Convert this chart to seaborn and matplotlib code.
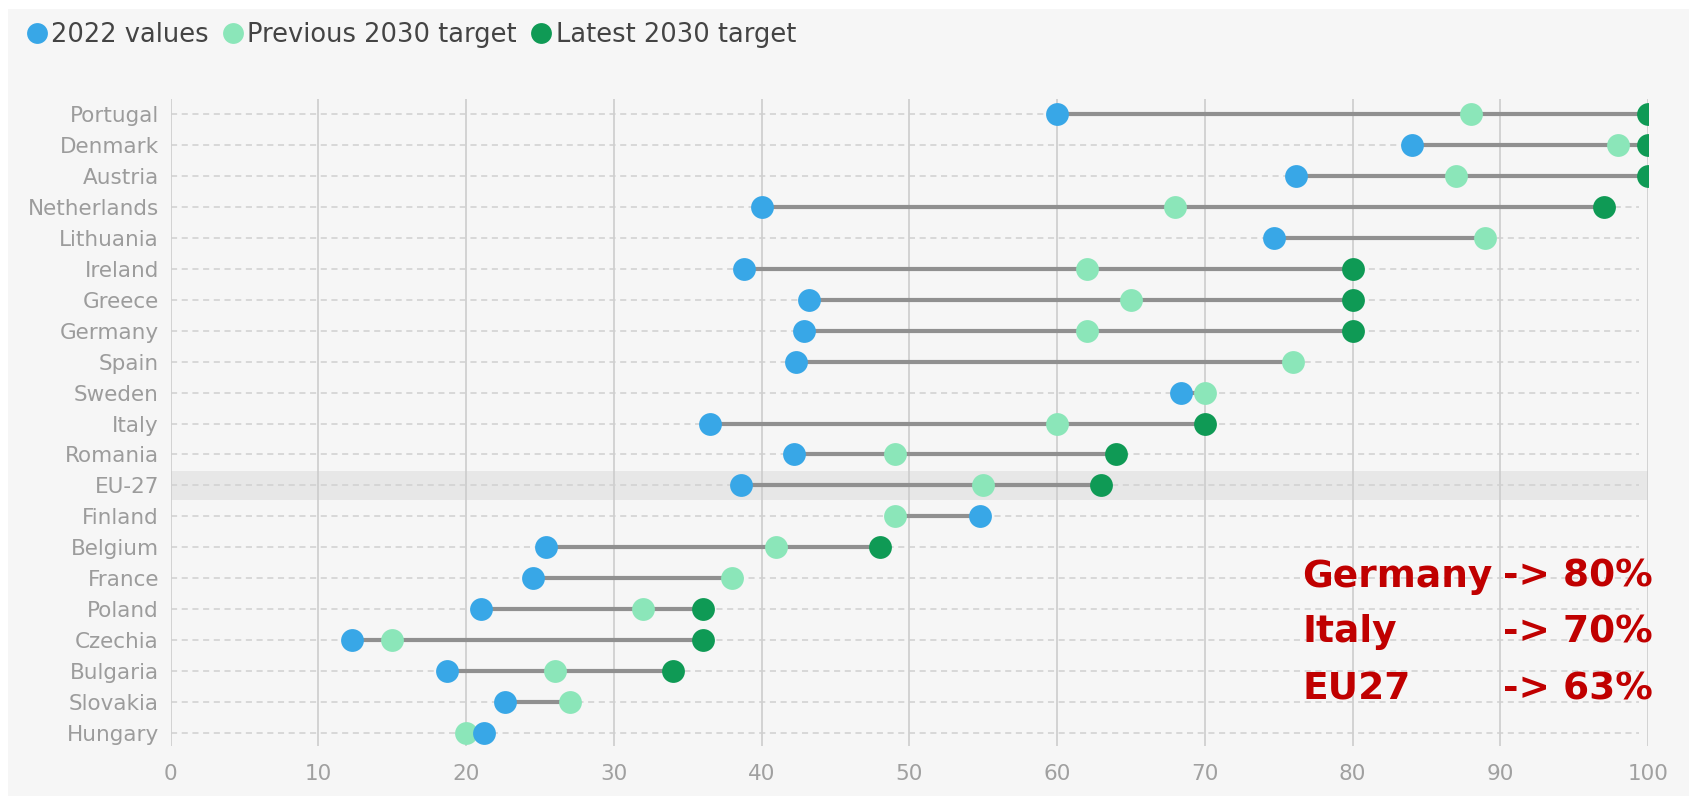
import numpy as np
import pandas as pd
import matplotlib
matplotlib.use("Agg")
import matplotlib.pyplot as plt
from matplotlib.patches import Rectangle
from matplotlib.lines import Line2D
import seaborn as sns

countries = ["Portugal", "Denmark", "Austria", "Netherlands", "Lithuania", "Ireland",
             "Greece", "Germany", "Spain", "Sweden", "Italy", "Romania", "EU-27",
             "Finland", "Belgium", "France", "Poland", "Czechia", "Bulgaria",
             "Slovakia", "Hungary"]
values_2022 = [60, 84, 76.2, 40, 74.7, 38.8, 43.2, 42.9, 42.3, 68.4, 36.5, 42.2, 38.6,
               54.8, 25.4, 24.5, 21.0, 12.3, 18.7, 22.6, 21.2]
prev_2030 = [88, 98, 87, 68, 89, 62, 65, 62, 76, 70, 60, 49, 55,
             49, 41, 38, 32, 15, 26, 27, 20]
latest_2030 = [100, 100, 100, 97, np.nan, 80, 80, 80, np.nan, np.nan, 70, 64, 63,
               np.nan, 48, np.nan, 36, 36, 34, np.nan, np.nan]
x_ticks = [0, 10, 20, 30, 40, 50, 60, 70, 80, 90, 100]
legend_labels = ["2022 values", "Previous 2030 target", "Latest 2030 target"]
highlight = "EU-27"
notes_left = ["Germany", "Italy", "EU27"]
notes_right = ["-> 80%", "-> 70%", "-> 63%"]

C_BLUE = "#38a7e7"
C_LIGHT = "#8be6b9"
C_DARK = "#0f9a55"
BG = "#f6f6f6"

sns.set_theme(style="white")
plt.rcParams["font.family"] = ["DejaVu Sans"]

df = pd.DataFrame({"country": countries, "v2022": values_2022,
                   "prev": prev_2030, "latest": latest_2030})
df["row"] = np.arange(len(df))
df["lo"] = df[["v2022", "prev", "latest"]].min(axis=1)
df["hi"] = df[["v2022", "prev", "latest"]].max(axis=1)

W, H = 1689, 796
fig = plt.figure(figsize=(W / 100, H / 100), dpi=100)
fig.patch.set_facecolor("white")
fig.patches.append(Rectangle((8 / W, 0), 1 - 8 / W, 1 - 9 / H, transform=fig.transFigure,
                             facecolor=BG, edgecolor="none", zorder=-10))

ax = fig.add_axes([170.7 / W, 1 - 746 / H, (1648 - 170.7) / W, (746 - 99) / H])
ax.patch.set_alpha(0)

# highlight band
hi_row = countries.index(highlight)
ax.axhspan(hi_row - 0.48, hi_row + 0.48, xmin=0, xmax=1, color="#e7e7e7", zorder=0, lw=0)

# vertical grid
for t in x_ticks:
    ax.axvline(t, color="#cccccc", lw=1.2, zorder=0.5)
# horizontal dashed guides
ax.hlines(df["row"], 0, 99.4, colors="#d0d0d0", lw=1.1, linestyles=(0, (4, 3)), zorder=0.6)

# connecting lines
ax.hlines(df["row"], df["lo"], df["hi"], colors="#909090", lw=3.0, zorder=2)

ms = 270
sns.scatterplot(data=df, x="prev", y="row", color=C_LIGHT, s=ms, linewidth=0, ax=ax, zorder=3)
sns.scatterplot(data=df, x="v2022", y="row", color=C_BLUE, s=ms, linewidth=0, ax=ax, zorder=4)
sns.scatterplot(data=df.dropna(subset=["latest"]), x="latest", y="row", color=C_DARK, s=ms,
                linewidth=0, ax=ax, zorder=5)

ax.set_xlim(0, 100)
ax.set_ylim(20.42, -0.485)
ax.set_xlabel("")
ax.set_ylabel("")
ax.set_xticks(x_ticks)
ax.set_xticklabels([str(t) for t in x_ticks])
ax.set_yticks(df["row"])
ax.set_yticklabels(countries)
ax.tick_params(axis="y", length=0, pad=8.5, labelsize=15.5, labelcolor="#9c9c9c")
ax.tick_params(axis="x", length=0, pad=13, labelsize=15.5, labelcolor="#a0a0a0")
for s in ax.spines.values():
    s.set_visible(False)

# legend
handles = [Line2D([], [], marker="o", ls="none", markersize=15, markerfacecolor=c,
                  markeredgewidth=0) for c in (C_BLUE, C_LIGHT, C_DARK)]
fig.legend(handles, legend_labels, loc="center left", bbox_to_anchor=(14 / W, 1 - 35 / H),
           ncol=3, frameon=False, fontsize=18.5, handletextpad=0.05, columnspacing=0.45,
           handlelength=1.0, borderaxespad=0, labelcolor="#444444")

# annotations
red = "#c00000"
base_rows = [15.28, 17.06, 18.93]
for lt, rt, yb in zip(notes_left, notes_right, base_rows):
    ax.text(76.6, yb, lt, color=red, fontsize=27, fontweight="bold", ha="left",
            va="baseline", zorder=6)
    ax.text(100.3, yb, rt, color=red, fontsize=27, fontweight="bold", ha="right",
            va="baseline", zorder=6)

fig.savefig("out.png", dpi=100, facecolor=fig.get_facecolor())
